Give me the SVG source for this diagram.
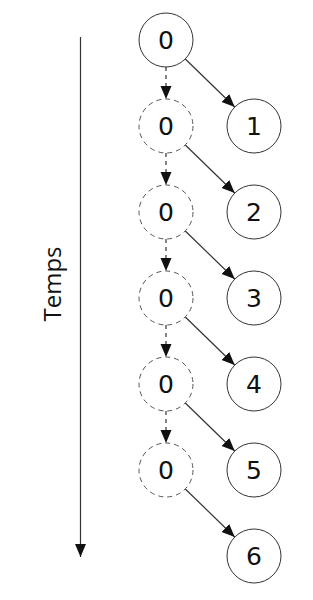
<svg xmlns="http://www.w3.org/2000/svg" width="313" height="600" viewBox="0 0 313 600">
<style>
.n{fill:#fff;stroke:#333;stroke-width:1}
.d{fill:#fff;stroke:#555;stroke-width:1;stroke-dasharray:5 4}
.t{font-family:"DejaVu Sans",sans-serif;font-size:25px;fill:#111;text-anchor:middle;dominant-baseline:central}
.e{stroke:#333;stroke-width:1.2;fill:none}
.ed{stroke:#333;stroke-width:1.2;fill:none;stroke-dasharray:4 4}
</style>
<defs>
<marker id="ah" markerUnits="userSpaceOnUse" markerWidth="14" markerHeight="12" refX="13" refY="5.5" orient="auto">
<path d="M0,0 L13,5.5 L0,11 Z" fill="#111"/>
</marker>
</defs>
<g id="edges">
<line class="e" x1="80.5" y1="37" x2="80.5" y2="557" marker-end="url(#ah)"/>
<line class="e" x1="185.3" y1="59" x2="234.7" y2="107" marker-end="url(#ah)"/>
<line class="e" x1="185.3" y1="145" x2="234.7" y2="193" marker-end="url(#ah)"/>
<line class="e" x1="185.3" y1="231" x2="234.7" y2="279" marker-end="url(#ah)"/>
<line class="e" x1="185.3" y1="317" x2="234.7" y2="365" marker-end="url(#ah)"/>
<line class="e" x1="185.3" y1="403" x2="234.7" y2="451" marker-end="url(#ah)"/>
<line class="e" x1="185.3" y1="489" x2="234.7" y2="537" marker-end="url(#ah)"/>
<line class="ed" x1="166" y1="67" x2="166" y2="99" marker-end="url(#ah)"/>
<line class="ed" x1="166" y1="153" x2="166" y2="185" marker-end="url(#ah)"/>
<line class="ed" x1="166" y1="239" x2="166" y2="271" marker-end="url(#ah)"/>
<line class="ed" x1="166" y1="325" x2="166" y2="357" marker-end="url(#ah)"/>
<line class="ed" x1="166" y1="411" x2="166" y2="443" marker-end="url(#ah)"/>
</g>
<text x="0" y="0" transform="translate(51,284) rotate(-90)" style="font-family:'Open Sans',sans-serif;font-size:24px;fill:#111;text-anchor:middle;dominant-baseline:central">Temps</text>
<g id="n0"><circle class="n" cx="166" cy="40" r="27"/><text class="t" x="166" y="40">0</text></g>
<g id="d1"><circle class="d" cx="166" cy="126" r="27"/><text class="t" x="166" y="126">0</text></g>
<g id="d2"><circle class="d" cx="166" cy="212" r="27"/><text class="t" x="166" y="212">0</text></g>
<g id="d3"><circle class="d" cx="166" cy="298" r="27"/><text class="t" x="166" y="298">0</text></g>
<g id="d4"><circle class="d" cx="166" cy="384" r="27"/><text class="t" x="166" y="384">0</text></g>
<g id="d5"><circle class="d" cx="166" cy="470" r="27"/><text class="t" x="166" y="470">0</text></g>
<g id="n1"><circle class="n" cx="254" cy="126" r="27"/><text class="t" x="254" y="126">1</text></g>
<g id="n2"><circle class="n" cx="254" cy="212" r="27"/><text class="t" x="254" y="212">2</text></g>
<g id="n3"><circle class="n" cx="254" cy="298" r="27"/><text class="t" x="254" y="298">3</text></g>
<g id="n4"><circle class="n" cx="254" cy="384" r="27"/><text class="t" x="254" y="384">4</text></g>
<g id="n5"><circle class="n" cx="254" cy="470" r="27"/><text class="t" x="254" y="470">5</text></g>
<g id="n6"><circle class="n" cx="254" cy="556" r="27"/><text class="t" x="254" y="556">6</text></g>
</svg>
